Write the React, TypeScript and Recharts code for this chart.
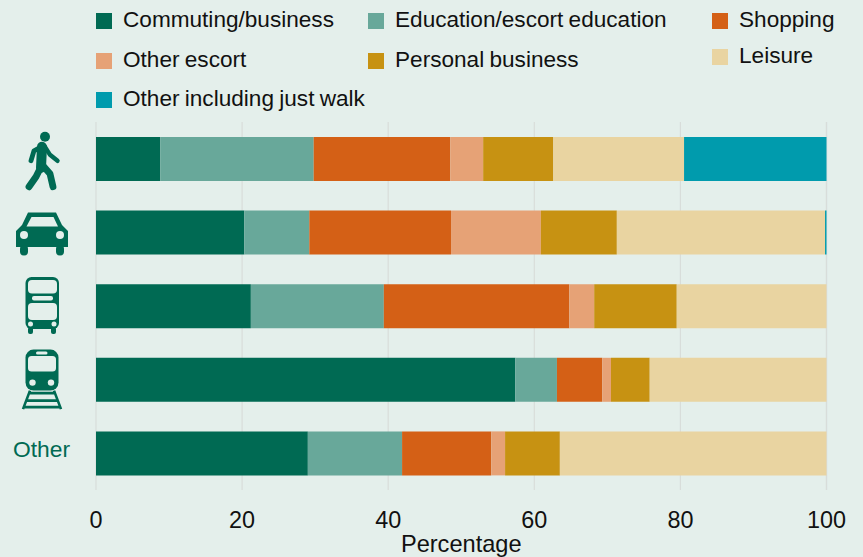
import { BarChart, Bar, XAxis, YAxis, CartesianGrid, Legend } from 'recharts';

const modes = ['Walk', 'Car', 'Bus', 'Rail', 'Other'];
const commuting = [8.8, 20.3, 21.2, 57.4, 29.0];
const education = [21.0, 8.9, 18.2, 5.7, 12.9];
const shopping = [18.7, 19.4, 25.4, 6.2, 12.2];
const otherEscort = [4.5, 12.3, 3.4, 1.2, 1.9];
const personal = [9.6, 10.4, 11.3, 5.3, 7.5];
const leisure = [17.9, 28.5, 20.5, 24.2, 36.5];
const otherWalk = [19.5, 0.2, 0, 0, 0];
const xTicks = [0, 20, 40, 60, 80, 100];

const series = [
  { key: 'commuting', name: 'Commuting/business', color: '#006A53', values: commuting },
  { key: 'education', name: 'Education/escort education', color: '#68A89A', values: education },
  { key: 'shopping', name: 'Shopping', color: '#D46016', values: shopping },
  { key: 'otherEscort', name: 'Other escort', color: '#E6A276', values: otherEscort },
  { key: 'personal', name: 'Personal business', color: '#C79212', values: personal },
  { key: 'leisure', name: 'Leisure', color: '#E9D4A1', values: leisure },
  { key: 'otherWalk', name: 'Other including just walk', color: '#009BAD', values: otherWalk },
];

const data = modes.map((mode, i) => {
  const row: Record<string, string | number> = { mode };
  series.forEach((s) => {
    row[s.key] = s.values[i];
  });
  return row;
});

const BG = '#E4EFEB';
const GREEN = '#006A53';
const FONT = '"Liberation Sans", Arial, sans-serif';

const legendPos: Record<string, { x: number; y: number }> = {
  commuting: { x: 96, y: 13 },
  education: { x: 368, y: 13 },
  shopping: { x: 712, y: 13 },
  otherEscort: { x: 96, y: 53 },
  personal: { x: 368, y: 53 },
  leisure: { x: 712, y: 49 },
  otherWalk: { x: 96, y: 92 },
};

function ChartLegend() {
  return (
    <div style={{ position: 'absolute', left: 0, top: 0, height: 0 }}>
      {series.map((s) => {
        const p = legendPos[s.key];
        return (
          <div key={s.key}>
            <div style={{ position: 'absolute', left: p.x, top: p.y, width: 15.5, height: 15.5, background: s.color }} />
            <div
              style={{
                position: 'absolute',
                left: p.x + 27,
                top: p.y - 7,
                fontSize: 22.6,
                lineHeight: '27px',
                wordSpacing: -1,
                whiteSpace: 'nowrap',
                color: '#111',
                fontFamily: FONT,
              }}
            >
              {s.name}
            </div>
          </div>
        );
      })}
    </div>
  );
}

// icons are drawn around the centre of each band
function ModeTick({ y, payload }: any) {
  const mode = payload.value;
  if (mode === 'Other') {
    return (
      <text x={41.5} y={y - 2} textAnchor="middle" dominantBaseline="middle" fontSize={22.8} fill={GREEN} fontFamily={FONT}>
        Other
      </text>
    );
  }
  if (mode === 'Walk') {
    return (
      <g transform={`translate(0 ${y - 159})`} fill="none" stroke={GREEN} strokeLinecap="round" strokeLinejoin="round">
        <circle cx={45} cy={137} r={5} fill={GREEN} stroke="none" />
        <path d="M43 146 L34 151 L31 161" strokeWidth={4.8} />
        <path d="M45 147 L50 155 L57.5 161" strokeWidth={4.4} />
        <path d="M42 147 L41 168" strokeWidth={10} />
        <path d="M41 167 L36 177 L29 187" strokeWidth={6.8} />
        <path d="M43 166 L50 174 L53 187" strokeWidth={6.8} />
      </g>
    );
  }
  if (mode === 'Car') {
    return (
      <g transform={`translate(0 ${y - 232.4})`}>
        <path d="M28 212.5 H56 L62 225 L68 231 V247 H16 V231 L22 225 Z" fill={GREEN} />
        <path d="M31.5 217 H53.5 L58 226.5 H26.5 Z" fill={BG} />
        <circle cx={24} cy={235} r={4} fill={BG} />
        <circle cx={60} cy={235} r={4} fill={BG} />
        <rect x={20} y={245} width={8} height={10.5} rx={4} fill={GREEN} />
        <rect x={56} y={245} width={8} height={10.5} rx={4} fill={GREEN} />
      </g>
    );
  }
  if (mode === 'Bus') {
    return (
      <g transform={`translate(0 ${y - 306})`}>
        <rect x={25.5} y={277} width={33.5} height={52} rx={6} fill={GREEN} />
        <rect x={28} y={280} width={29} height={13.5} rx={4} fill={BG} />
        <rect x={32} y={296} width={21} height={4.5} rx={2} fill={BG} />
        <rect x={28} y={303} width={29} height={17} rx={4} fill={BG} />
        <circle cx={30.5} cy={324} r={2.5} fill={BG} />
        <circle cx={54} cy={324} r={2.5} fill={BG} />
        <rect x={28} y={327} width={5} height={7} rx={2} fill={GREEN} />
        <rect x={51} y={327} width={5} height={7} rx={2} fill={GREEN} />
      </g>
    );
  }
  return (
    <g transform={`translate(0 ${y - 380})`}>
      <rect x={25.5} y={350} width={33} height={41} rx={8} fill={GREEN} />
      <rect x={28} y={356.5} width={28} height={15.5} rx={3.5} fill={BG} />
      <rect x={36} y={352} width={11.5} height={3} rx={1.5} fill={BG} />
      <circle cx={32.5} cy={383} r={3.2} fill={BG} />
      <circle cx={51} cy={383} r={3.2} fill={BG} />
      <path d="M30 391 L23 409.5 M54 391 L61 409.5 M28 393.5 H56 M26 401 H58 M23.5 407.5 H60" stroke={GREEN} strokeWidth={2.6} fill="none" />
    </g>
  );
}

export default function App() {
  return (
    <div style={{ position: 'absolute', left: 0, top: 0, width: 863, height: 557, background: BG }}>
      <BarChart
        width={863}
        height={557}
        data={data}
        layout="vertical"
        barSize={44}
        margin={{ top: 122, right: 36.5, bottom: 0, left: 0 }}
        style={{ background: BG }}
      >
        <CartesianGrid horizontal={false} stroke="#D8DDDA" strokeWidth={1.2} />
        <XAxis
          type="number"
          domain={[0, 100]}
          ticks={xTicks}
          axisLine={false}
          tickLine={false}
          height={67}
          tickMargin={15}
          tick={{ fontSize: 23.4, fill: '#111', fontFamily: FONT }}
          label={{ value: 'Percentage', position: 'insideBottom', offset: 5, fontSize: 23.6, fill: '#111', fontFamily: FONT }}
        />
        <YAxis type="category" dataKey="mode" width={96} axisLine={false} tickLine={false} tick={ModeTick} interval={0} />
        <Legend content={<ChartLegend />} wrapperStyle={{ position: 'absolute', left: 0, top: 0, width: 0, height: 0 }} />
        {series.map((s) => (
          <Bar key={s.key} dataKey={s.key} name={s.name} stackId="a" fill={s.color} isAnimationActive={false} />
        ))}
      </BarChart>
    </div>
  );
}
